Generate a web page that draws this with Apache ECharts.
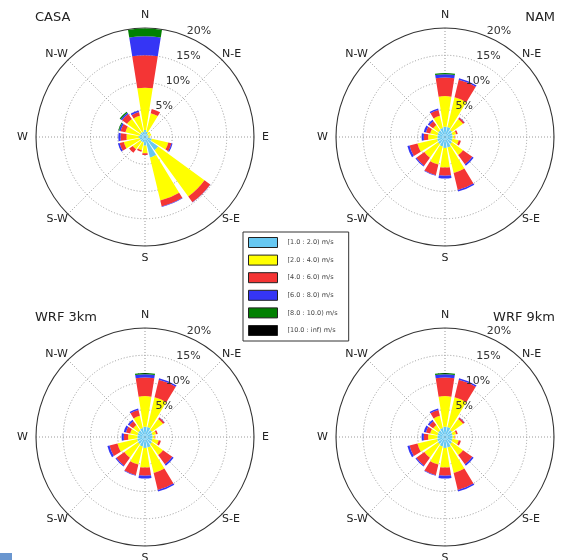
<!DOCTYPE html>
<html><head><meta charset="utf-8">
<script src="https://cdn.jsdelivr.net/npm/echarts@6/dist/echarts.min.js"></script>
<style>html,body{margin:0;padding:0;background:#fff}#c{width:561px;height:560px}</style>
</head><body><div id="c"></div>
<script>
// 16 wind directions (bar categories), clockwise from North
const directions = ['N','NNE','NE','ENE','E','ESE','SE','SSE','S','SSW','SW','WSW','W','WNW','NW','NNW'];
// compass tick labels on the angle axis (degrees clockwise from N)
const compassDegrees = [0, 45, 90, 135, 180, 225, 270, 315];
const compassNames = ['N', 'N-E', 'E', 'S-E', 'S', 'S-W', 'W', 'N-W'];
// radial tick labels (%)
const radialTicks = [5, 10, 15, 20];
// speed bins (legend)
const speedBins = ['[1.0 : 2.0) m/s', '[2.0 : 4.0) m/s', '[4.0 : 6.0) m/s', '[6.0 : 8.0) m/s', '[8.0 : 10.0) m/s', '[10.0 : inf) m/s'];
const binColors = ['#66C8F2', '#FFFF00', '#F43535', '#3535F5', '#008000', '#000000'];
const titles = ['CASA', 'NAM', 'WRF 3km', 'WRF 9km'];

// CASA – frequency (%) per direction for each speed bin
const casa1to2  = [1.3, 1.0, 0.6, 0.7, 0.6, 1.3, 3.0, 3.9, 1.6, 1.0, 1.0, 1.0, 1.2, 1.0, 1.0, 1.0];
const casa2to4  = [7.75, 3.5, 0.6, 0.5, 0.3, 3.1, 10.5, 8.1, 1.4, 1.5, 1.8, 3.0, 2.2, 2.7, 3.1, 3.0];
const casa4to6  = [5.95, 0.8, 0, 0, 0.05, 0.6, 1.3, 1.1, 0.3, 0.3, 0.8, 0.8, 1.1, 0.9, 1.1, 0.7];
const casa6to8  = [3.5, 0, 0, 0, 0, 0.2, 0.05, 0.1, 0, 0, 0, 0.3, 0.4, 0.3, 0.3, 0.3];
const casa8to10 = [1.4, 0, 0, 0, 0, 0, 0, 0, 0, 0, 0, 0, 0, 0.15, 0.25, 0];
const casa10up  = [0, 0, 0, 0, 0, 0, 0, 0, 0, 0, 0, 0, 0, 0, 0, 0];

// NAM
const nam1to2  = [1.9, 1.9, 1.6, 1.4, 1.4, 1.4, 1.6, 2.0, 2.0, 1.8, 1.6, 1.5, 1.4, 1.4, 1.5, 1.7];
const nam2to4  = [5.6, 5.6, 2.5, 0.7, 0.4, 1.2, 2.5, 4.8, 3.6, 3.4, 3.1, 3.7, 1.7, 1.4, 1.2, 2.3];
const nam4to6  = [3.4, 3.3, 0.35, 0.3, 0.1, 0.4, 2.1, 3.2, 1.5, 2.0, 1.8, 1.5, 0.8, 0.8, 0.9, 1.1];
const nam6to8  = [0.6, 0.3, 0.05, 0, 0, 0, 0.3, 0.3, 0.5, 0.1, 0.2, 0.4, 0.4, 0.4, 0.3, 0.3];
const nam8to10 = [0.25, 0, 0, 0, 0, 0, 0, 0, 0, 0, 0, 0, 0, 0, 0, 0];
const nam10up  = [0, 0, 0, 0, 0, 0, 0, 0, 0, 0, 0, 0, 0, 0, 0, 0];

// WRF 3km
const wrf3to2  = [1.9, 1.9, 1.6, 1.4, 1.4, 1.4, 1.6, 2.0, 2.0, 1.8, 1.6, 1.5, 1.4, 1.4, 1.5, 1.7];
const wrf3to4  = [5.6, 5.6, 2.5, 0.7, 0.4, 1.2, 2.5, 4.8, 3.6, 3.4, 3.1, 3.7, 1.7, 1.4, 1.2, 2.3];
const wrf3to6  = [3.4, 3.3, 0.35, 0.3, 0.1, 0.4, 2.1, 3.2, 1.5, 2.0, 1.8, 1.5, 0.8, 0.8, 0.9, 1.1];
const wrf3to8  = [0.6, 0.3, 0.05, 0, 0, 0, 0.3, 0.3, 0.5, 0.1, 0.2, 0.4, 0.4, 0.4, 0.3, 0.3];
const wrf3to10 = [0.25, 0, 0, 0, 0, 0, 0, 0, 0, 0, 0, 0, 0, 0, 0, 0];
const wrf3up   = [0, 0, 0, 0, 0, 0, 0, 0, 0, 0, 0, 0, 0, 0, 0, 0];

// WRF 9km
const wrf9to2  = [1.9, 1.9, 1.6, 1.4, 1.4, 1.4, 1.6, 2.0, 2.0, 1.8, 1.6, 1.5, 1.4, 1.4, 1.5, 1.7];
const wrf9to4  = [5.6, 5.6, 2.5, 0.7, 0.4, 1.2, 2.5, 4.8, 3.6, 3.4, 3.1, 3.7, 1.7, 1.4, 1.2, 2.3];
const wrf9to6  = [3.4, 3.3, 0.35, 0.3, 0.1, 0.4, 2.1, 3.2, 1.5, 2.0, 1.8, 1.5, 0.8, 0.8, 0.9, 1.1];
const wrf9to8  = [0.6, 0.3, 0.05, 0, 0, 0, 0.3, 0.3, 0.5, 0.1, 0.2, 0.4, 0.4, 0.4, 0.3, 0.3];
const wrf9to10 = [0.25, 0, 0, 0, 0, 0, 0, 0, 0, 0, 0, 0, 0, 0, 0, 0];
const wrf9up   = [0, 0, 0, 0, 0, 0, 0, 0, 0, 0, 0, 0, 0, 0, 0, 0];

const roseData = [
  [casa1to2, casa2to4, casa4to6, casa6to8, casa8to10, casa10up],
  [nam1to2, nam2to4, nam4to6, nam6to8, nam8to10, nam10up],
  [wrf3to2, wrf3to4, wrf3to6, wrf3to8, wrf3to10, wrf3up],
  [wrf9to2, wrf9to4, wrf9to6, wrf9to8, wrf9to10, wrf9up]
];

const FONT = 'DejaVu Sans';
const centers = [[145, 137], [445, 137], [145, 437], [445, 437]];
const R = 109;
const RMAX = 20;

const polar = [], angleAxis = [], radiusAxis = [], series = [];
const hidden = { axisLine: { show: false }, axisTick: { show: false }, axisLabel: { show: false }, splitLine: { show: false } };

roseData.forEach((bins, k) => {
  const c = centers[k];
  const pBar = polar.length;
  // bars polar
  polar.push({ center: c, radius: R });
  angleAxis.push(Object.assign({ polarIndex: pBar, type: 'category', data: directions, startAngle: 90 + 11.25, boundaryGap: true }, hidden));
  radiusAxis.push(Object.assign({ polarIndex: pBar, type: 'value', min: 0, max: RMAX }, hidden));
  // grid polar
  const pGrid = polar.length;
  polar.push({ center: c, radius: R });
  angleAxis.push({
    polarIndex: pGrid, type: 'value', min: 0, max: 360, interval: 45, startAngle: 90, clockwise: true, z: 0,
    axisLine: { show: true, lineStyle: { color: '#333', width: 1.1 } },
    axisTick: { show: false },
    splitLine: { show: true, lineStyle: { color: '#999', width: 1, type: [1, 2] } },
    axisLabel: {
      show: true, margin: 0, fontSize: 11, color: '#222', fontFamily: FONT,
      formatter: v => {
        const i = compassDegrees.indexOf(v);
        if (i < 0) return '';
        const key = (v % 90 === 0) ? ['n', 'e', 's', 'w'][v / 90] : 'd';
        return '{' + key + '|' + compassNames[i] + '}';
      },
      rich: {
        n: { padding: [0, 0, 7, 0], fontSize: 11, color: '#222', fontFamily: FONT },
        e: { padding: [0, 0, 0, 8], fontSize: 11, color: '#222', fontFamily: FONT },
        s: { padding: [7, 0, 0, 0], fontSize: 11, color: '#222', fontFamily: FONT },
        w: { padding: [0, 8, 0, 0], fontSize: 11, color: '#222', fontFamily: FONT },
        d: { fontSize: 11, color: '#222', fontFamily: FONT }
      }
    }
  });
  radiusAxis.push({
    polarIndex: pGrid, type: 'value', min: 0, max: RMAX, interval: 5, z: 0,
    axisLine: { show: false }, axisTick: { show: false }, axisLabel: { show: false },
    splitLine: { show: true, lineStyle: { color: ['#999', '#999', '#999', '#999', 'rgba(0,0,0,0)'], width: 1, type: [1, 2] } }
  });
  // radial label polar (labels along 22.5° clockwise from N)
  const pLab = polar.length;
  polar.push({ center: c, radius: R });
  angleAxis.push(Object.assign({ polarIndex: pLab, type: 'value', min: 0, max: 360, startAngle: 90 - 22.5 }, hidden));
  radiusAxis.push({
    polarIndex: pLab, type: 'value', min: 0, max: RMAX, interval: 5, z: 10,
    axisLine: { show: false }, axisTick: { show: false }, splitLine: { show: false },
    axisLabel: {
      show: true, margin: 0, align: 'left', verticalAlign: 'bottom', fontSize: 11, color: '#333', fontFamily: FONT,
      showMinLabel: false, hideOverlap: false,
      formatter: v => radialTicks.indexOf(v) >= 0 ? v + '%' : ''
    }
  });
  bins.forEach((vals, b) => {
    series.push({
      type: 'bar', coordinateSystem: 'polar', polarIndex: pBar,
      name: speedBins[b], stack: 'rose' + k, data: vals,
      barCategoryGap: '20%',
      itemStyle: { color: binColors[b] },
      emphasis: { disabled: true },
      animation: false, z: 2
    });
  });
});

const titleStyle = { fontSize: 13, fontWeight: 'normal', color: '#222', fontFamily: FONT };
const option = {
  backgroundColor: '#fff',
  animation: false,
  title: [
    { text: titles[0], left: 35, top: 11, padding: 0, textStyle: titleStyle },
    { text: titles[1], right: 6, top: 11, padding: 0, textStyle: titleStyle },
    { text: titles[2], left: 35, top: 311, padding: 0, textStyle: titleStyle },
    { text: titles[3], right: 6, top: 311, padding: 0, textStyle: titleStyle }
  ],
  legend: {
    data: speedBins, orient: 'vertical', left: 243, top: 232,
    selectedMode: false, icon: 'rect', itemWidth: 29, itemHeight: 10, itemGap: 6.6,
    padding: [5, 11, 5, 5], borderColor: '#333', borderWidth: 1, backgroundColor: '#fff',
    itemStyle: { borderColor: '#222', borderWidth: 1 },
    textStyle: { fontSize: 6.5, color: '#444', fontFamily: FONT, padding: [0, 0, 0, 5] }
  },
  polar, angleAxis, radiusAxis, series,
  graphic: [{ type: 'rect', left: 0, top: 553, shape: { width: 12, height: 7 }, style: { fill: '#6A96CF' } }]
};

const chart = echarts.init(document.getElementById('c'), null, { renderer: 'canvas' });
chart.setOption(option);
</script>
</body></html>
